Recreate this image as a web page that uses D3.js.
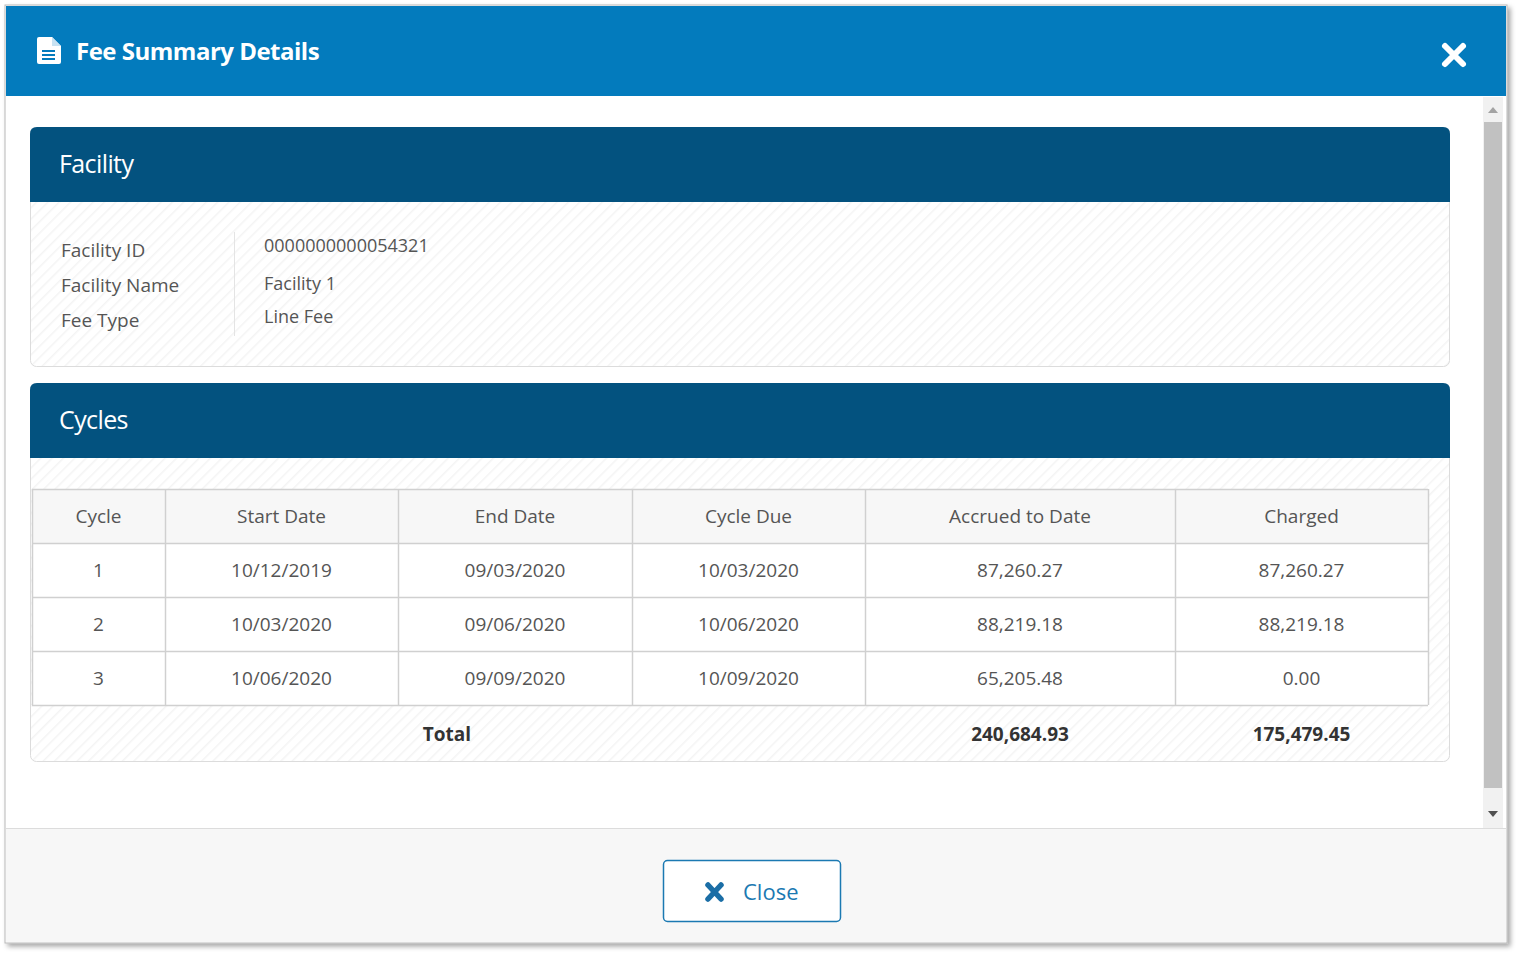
<!DOCTYPE html>
<html>
<head>
<meta charset="utf-8">
<script src="https://cdn.jsdelivr.net/npm/d3@7"></script>
<style>
  body { margin: 0; background: #fff; }
  svg text { font-family: "Open Sans", "Noto Sans", sans-serif; }
</style>
</head>
<body>
<div id="chart"></div>
<script>
// data
const facilityLabels = ["Facility ID", "Facility Name", "Fee Type"];
const facilityValues = ["0000000000054321", "Facility 1", "Line Fee"];
const columns = ["Cycle", "Start Date", "End Date", "Cycle Due", "Accrued to Date", "Charged"];
const cycles = [1, 2, 3];
const startDates = ["10/12/2019", "10/03/2020", "10/06/2020"];
const endDates = ["09/03/2020", "09/06/2020", "09/09/2020"];
const dueDates = ["10/03/2020", "10/06/2020", "10/09/2020"];
const accrued = [87260.27, 88219.18, 65205.48];
const charged = [87260.27, 88219.18, 0.00];

const W = 1521, H = 956;
const fmt = d3.format(",.2f");

const svg = d3.select("#chart").append("svg").attr("width", W).attr("height", H);
const defs = svg.append("defs");
const sh = defs.append("filter").attr("id", "shadow").attr("x", "-5%").attr("y", "-5%").attr("width", "110%").attr("height", "110%");
sh.append("feDropShadow").attr("dx", 3).attr("dy", 3).attr("stdDeviation", 2.5).attr("flood-color", "#000").attr("flood-opacity", 0.35);
const pat = defs.append("pattern").attr("id", "stripes").attr("width", 8).attr("height", 8)
  .attr("patternUnits", "userSpaceOnUse").attr("patternTransform", "rotate(45)");
pat.append("rect").attr("width", 8).attr("height", 8).attr("fill", "#fff");
pat.append("line").attr("x1", 0).attr("y1", 0).attr("x2", 0).attr("y2", 8).attr("stroke", "#f4f4f4").attr("stroke-width", 3);

// dialog frame
svg.append("rect").attr("x", 5).attr("y", 5).attr("width", 1502).attr("height", 938)
  .attr("fill", "#fff").attr("stroke", "#b8b8b8").attr("filter", "url(#shadow)");
svg.append("rect").attr("x", 6).attr("y", 6).attr("width", 1500).attr("height", 90).attr("fill", "#037bbd");

// header icon (document)
const icon = svg.append("g").attr("transform", "translate(37,37)");
icon.append("path").attr("d", "M0,2 Q0,0 2,0 H15 L24,9 V25 Q24,27 22,27 H2 Q0,27 0,25 Z").attr("fill", "#fff");
icon.append("path").attr("d", "M15,0 V9 H24").attr("fill", "#c8e2f2");
[13, 17, 21].forEach(y => icon.append("rect").attr("x", 5).attr("y", y).attr("width", 13).attr("height", 2).attr("fill", "#037bbd"));
svg.append("text").attr("x", 76).attr("y", 60).attr("fill", "#fff")
  .attr("font-size", 24).attr("font-weight", 700).attr("letter-spacing", -0.5).text("Fee Summary Details");

// close X in header
svg.append("path").attr("d", "M1445,46 L1463,64 M1463,46 L1445,64")
  .attr("stroke", "#fff").attr("stroke-width", 6).attr("stroke-linecap", "round");

// scrollbar
svg.append("rect").attr("x", 1483).attr("y", 97).attr("width", 20).attr("height", 731).attr("fill", "#f1f1f1");
svg.append("rect").attr("x", 1484).attr("y", 122).attr("width", 18).attr("height", 666).attr("fill", "#c1c1c1");
svg.append("path").attr("d", "M1488,113 L1493,107 L1498,113 Z").attr("fill", "#a3a3a3");
svg.append("path").attr("d", "M1488,811 L1493,817 L1498,811 Z").attr("fill", "#505050");

// panels
function panel(y0, y1, title) {
  const hh = 75;
  svg.append("rect").attr("x", 30.5).attr("y", y0 + 0.5).attr("width", 1419).attr("height", y1 - y0)
    .attr("rx", 6).attr("fill", "url(#stripes)").attr("stroke", "#dcdcdc");
  svg.append("path").attr("d", `M30,${y0 + hh} V${y0 + 7} Q30,${y0} 37,${y0} H1443 Q1450,${y0} 1450,${y0 + 7} V${y0 + hh} Z`)
    .attr("fill", "#03527f");
  svg.append("text").attr("x", 59).attr("y", y0 + 46).attr("fill", "#fff")
    .attr("font-size", 25).attr("letter-spacing", -0.6).text(title);
}
panel(127, 366, "Facility");
panel(383, 761, "Cycles");

// facility details
const rowY = d3.scalePoint().domain(facilityLabels).range([250, 320]);
svg.append("line").attr("x1", 234.5).attr("x2", 234.5).attr("y1", 232).attr("y2", 336).attr("stroke", "#e4e4e4");
svg.selectAll("text.flabel").data(facilityLabels).join("text").attr("class", "flabel")
  .attr("x", 61).attr("y", d => rowY(d)).attr("dy", "0.35em").attr("font-size", 19).attr("fill", "#555").text(d => d);
const valOffsets = [-4, -1, -3];
svg.selectAll("text.fval").data(facilityValues).join("text").attr("class", "fval")
  .attr("x", 264).attr("y", (d, i) => rowY(facilityLabels[i]) + valOffsets[i]).attr("dy", "0.35em")
  .attr("font-size", 18).attr("fill", "#555").text(d => d);

// cycles table
const colEdges = [32, 165, 398, 632, 865, 1175, 1428];
const colX = d3.scaleOrdinal().domain(columns).range(colEdges.slice(0, -1));
const colW = c => colEdges[columns.indexOf(c) + 1] - colX(c);
const rowsData = cycles.map((c, i) => [String(c), startDates[i], endDates[i], dueDates[i], fmt(accrued[i]), fmt(charged[i])]);
const rowScale = d3.scaleBand().domain(d3.range(rowsData.length + 1)).range([489, 705]);

const table = svg.append("g");
table.append("rect").attr("x", 32).attr("y", 489).attr("width", 1396).attr("height", rowScale.bandwidth()).attr("fill", "#f7f7f7");
table.append("rect").attr("x", 32).attr("y", 543).attr("width", 1396).attr("height", 162).attr("fill", "#fff");
rowScale.domain().concat([rowsData.length + 1]).forEach(i => {
  const y = i <= rowsData.length ? rowScale(i) : 705;
  table.append("line").attr("x1", 32).attr("x2", 1428).attr("y1", y + 0.5).attr("y2", y + 0.5).attr("stroke", "#d0d0d0").attr("stroke-width", 1.5);
});
colEdges.forEach(x => table.append("line").attr("x1", x + 0.5).attr("x2", x + 0.5).attr("y1", 489).attr("y2", 705).attr("stroke", "#d0d0d0").attr("stroke-width", 1.5));

const allRows = [columns].concat(rowsData);
allRows.forEach((row, r) => {
  table.selectAll(null).data(row).join("text")
    .attr("x", (d, i) => colX(columns[i]) + colW(columns[i]) / 2)
    .attr("y", rowScale(r) + rowScale.bandwidth() / 2).attr("dy", "0.35em")
    .attr("text-anchor", "middle").attr("font-size", 19).attr("fill", "#555").text(d => d);
});

// total row
const totals = [["Total", 447], [fmt(d3.sum(accrued)), colX("Accrued to Date") + colW("Accrued to Date") / 2], [fmt(d3.sum(charged)), colX("Charged") + colW("Charged") / 2]];
table.selectAll("text.total").data(totals).join("text").attr("class", "total")
  .attr("x", d => d[1]).attr("y", 734).attr("dy", "0.35em").attr("text-anchor", "middle")
  .attr("font-size", 19).attr("font-weight", 700).attr("fill", "#333").text(d => d[0]);

// footer
svg.append("rect").attr("x", 6).attr("y", 828).attr("width", 1500).attr("height", 114).attr("fill", "#f7f7f7");
svg.append("line").attr("x1", 6).attr("x2", 1506).attr("y1", 828.5).attr("y2", 828.5).attr("stroke", "#dcdcdc");
svg.append("rect").attr("x", 663.5).attr("y", 860.5).attr("width", 177).attr("height", 61).attr("rx", 4)
  .attr("fill", "#fff").attr("stroke", "#1b79b2").attr("stroke-width", 1.5);
svg.append("path").attr("d", "M708,885 L721,899 M721,885 L708,899")
  .attr("stroke", "#1b6ea6").attr("stroke-width", 5.5).attr("stroke-linecap", "round");
svg.append("text").attr("x", 743).attr("y", 892).attr("dy", "0.35em").attr("font-size", 22)
  .attr("fill", "#1b79b2").text("Close");
</script>
</body>
</html>
